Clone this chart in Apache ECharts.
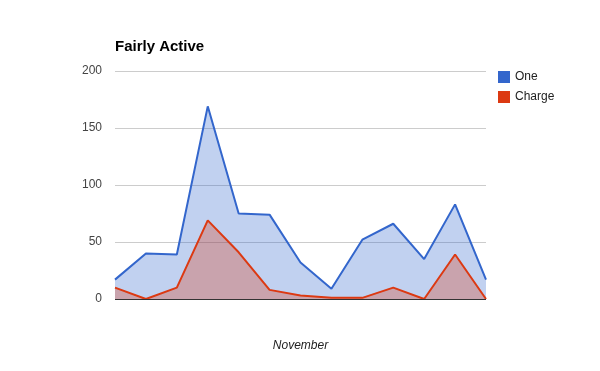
<!DOCTYPE html>
<html>
<head>
<meta charset="utf-8">
<script src="https://cdn.jsdelivr.net/npm/echarts@6/dist/echarts.min.js"></script>
<style>html,body{margin:0;padding:0;background:#fff;}#c{width:600px;height:371px;}</style>
</head>
<body>
<div id="c"></div>
<script>
var categories = ['1','2','3','4','5','6','7','8','9','10','11','12','13'];
var oneValues = [17, 40, 39, 169, 75, 74, 32, 9, 52, 66, 35, 83, 17];
var chargeValues = [10, 0, 10, 69, 41, 8, 3, 1, 1, 10, 0, 39, 0];
var yTicks = [0, 50, 100, 150, 200];
var FONT = 'Liberation Sans, Arial, sans-serif';

var chart = echarts.init(document.getElementById('c'), null, {renderer: 'canvas'});
chart.setOption({
  animation: false,
  title: {
    text: 'Fairly Active',
    left: 110, top: 34,
    textStyle: {fontFamily: FONT, fontSize: 15, fontWeight: 'bold', color: '#000'}
  },
  legend: {
    orient: 'vertical',
    left: 493, top: 66,
    icon: 'rect',
    itemWidth: 12, itemHeight: 12, itemGap: 8,
    textStyle: {fontFamily: FONT, fontSize: 12, color: '#222'},
    data: ['One', 'Charge']
  },
  grid: {left: 115, right: 114, top: 71, bottom: 72, containLabel: false},
  xAxis: {
    type: 'category',
    data: categories,
    boundaryGap: false,
    name: 'November',
    nameLocation: 'middle',
    nameGap: 41,
    nameTextStyle: {fontFamily: FONT, fontSize: 12, fontStyle: 'italic', color: '#222'},
    axisLine: {show: false},
    axisTick: {show: false},
    axisLabel: {show: false},
    splitLine: {show: false}
  },
  yAxis: {
    type: 'value',
    min: yTicks[0], max: yTicks[yTicks.length - 1], interval: 50,
    axisLine: {show: false},
    axisTick: {show: false},
    axisLabel: {fontFamily: FONT, fontSize: 12, color: '#444', margin: 13, padding: [2, 0, 0, 0]},
    splitLine: {lineStyle: {color: '#cccccc', width: 1}}
  },
  series: [
    {
      name: 'One', type: 'line', data: oneValues,
      symbol: 'none', smooth: false,
      itemStyle: {color: '#3366cc'},
      lineStyle: {color: '#3366cc', width: 2},
      areaStyle: {color: '#3366cc', opacity: 0.3},
      z: 2
    },
    {
      name: 'Charge', type: 'line', data: chargeValues,
      symbol: 'none', smooth: false,
      itemStyle: {color: '#dc3912'},
      lineStyle: {color: '#dc3912', width: 2},
      areaStyle: {color: '#dc3912', opacity: 0.3},
      markLine: {
        silent: true, symbol: 'none', label: {show: false},
        lineStyle: {color: '#333333', width: 1, type: 'solid'},
        data: [{yAxis: 0}]
      },
      z: 3
    }
  ]
});
</script>
</body>
</html>
